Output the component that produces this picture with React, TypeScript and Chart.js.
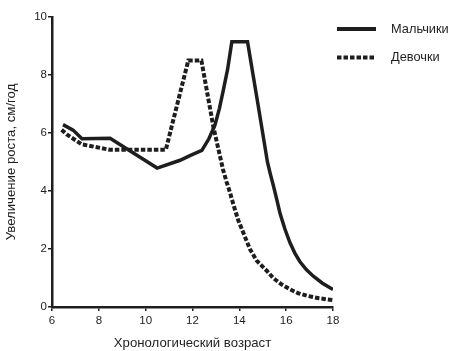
import React, { useEffect, useRef } from "react";
import { Chart, registerables } from "chart.js";

Chart.register(...registerables);

const boysAge = [6.47, 6.9, 7.28, 8.48, 10.49, 11.47, 11.89, 12.4, 12.7, 12.96, 13.15, 13.31, 13.5, 13.68, 14.35, 14.81, 15.2, 15.32, 15.45, 15.6, 15.74, 15.95, 16.16, 16.37, 16.59, 16.87, 17.16, 17.55, 18.0];
const boysGrowth = [6.29, 6.1, 5.8, 5.82, 4.79, 5.06, 5.22, 5.4, 5.8, 6.28, 6.85, 7.45, 8.2, 9.15, 9.15, 6.92, 5.0, 4.6, 4.2, 3.7, 3.22, 2.68, 2.22, 1.86, 1.56, 1.28, 1.06, 0.82, 0.6];
const girlsAge = [6.41, 6.63, 7.27, 8.48, 10.86, 11.82, 12.38, 12.89, 13.3, 13.46, 13.6, 13.74, 13.95, 14.17, 14.45, 14.74, 15.17, 15.45, 15.8, 16.16, 16.5, 16.88, 17.4, 18.0];
const girlsGrowth = [6.11, 5.95, 5.61, 5.42, 5.42, 8.5, 8.5, 6.22, 4.75, 4.3, 3.95, 3.55, 3.0, 2.56, 2.0, 1.6, 1.25, 1.0, 0.78, 0.61, 0.48, 0.39, 0.3, 0.24];
const xTicks = [6, 8, 10, 12, 14, 16, 18];
const yTicks = [0, 2, 4, 6, 8, 10];
const seriesNames = ["Мальчики", "Девочки"];
const xTitle = "Хронологический возраст";
const yTitle = "Увеличение роста, см/год";

const INK = "#1e1e1e";
const FONT = "'Liberation Sans', Arial, sans-serif";
const DOTS = [4.5, 2];

const legendPlugin = {
  id: "customLegend",
  afterDraw(chart: any) {
    const ctx = chart.ctx;
    const area = chart.chartArea;
    const x0 = area.right + 4;
    const items = [
      { name: seriesNames[0], dash: [] as number[], y: 29 },
      { name: seriesNames[1], dash: DOTS, y: 57.5 },
    ];
    ctx.save();
    items.forEach((it) => {
      ctx.beginPath();
      ctx.setLineDash(it.dash);
      ctx.lineWidth = 4;
      ctx.strokeStyle = INK;
      ctx.moveTo(x0, it.y);
      ctx.lineTo(x0 + 39, it.y);
      ctx.stroke();
      ctx.setLineDash([]);
      ctx.fillStyle = INK;
      ctx.font = `12.8px ${FONT}`;
      ctx.textBaseline = "middle";
      ctx.textAlign = "left";
      ctx.fillText(it.name, x0 + 54, it.y);
    });
    ctx.restore();
  },
};

export default function App() {
  const ref = useRef<HTMLCanvasElement>(null);
  useEffect(() => {
    if (!ref.current) return;
    const chart = new Chart(ref.current, {
      type: "line",
      data: {
        datasets: [
          {
            label: seriesNames[0],
            data: boysAge.map((x, i) => ({ x, y: boysGrowth[i] })),
            borderColor: INK,
            borderWidth: 3.5,
            pointRadius: 0,
            tension: 0,
            fill: false,
          },
          {
            label: seriesNames[1],
            data: girlsAge.map((x, i) => ({ x, y: girlsGrowth[i] })),
            borderColor: INK,
            borderWidth: 4,
            borderDash: DOTS,
            pointRadius: 0,
            tension: 0,
            fill: false,
          },
        ],
      },
      options: {
        animation: false,
        responsive: true,
        maintainAspectRatio: false,
        layout: { padding: { top: 17, right: 119, left: 0, bottom: 0 } },
        plugins: { legend: { display: false }, tooltip: { enabled: false } },
        scales: {
          x: {
            type: "linear",
            min: 6,
            max: 18,
            afterBuildTicks: (s: any) => {
              s.ticks = xTicks.map((v) => ({ value: v }));
            },
            afterFit: (s: any) => {
              s.height = 44;
            },
            grid: { display: true, drawOnChartArea: false, drawTicks: true, tickLength: 4, color: INK, lineWidth: 1.5 },
            border: { display: true, color: INK, width: 2.5 },
            ticks: { color: INK, font: { family: FONT, size: 11.5 }, padding: 3 },
            title: { display: true, text: xTitle, color: INK, font: { family: FONT, size: 13.2 }, padding: { top: 5, bottom: 0 } },
          },
          y: {
            type: "linear",
            min: 0,
            max: 10,
            afterBuildTicks: (s: any) => {
              s.ticks = yTicks.map((v) => ({ value: v }));
            },
            afterFit: (s: any) => {
              s.width = 52;
            },
            grid: { display: true, drawOnChartArea: false, drawTicks: true, tickLength: 4, color: INK, lineWidth: 1.5 },
            border: { display: true, color: INK, width: 2.5 },
            ticks: { color: INK, font: { family: FONT, size: 11.5 }, padding: 1 },
            title: { display: true, text: yTitle, color: INK, font: { family: FONT, size: 13.2 }, padding: { top: 3, bottom: 4 } },
          },
        },
      },
      plugins: [legendPlugin],
    });
    return () => chart.destroy();
  }, []);
  return (
    <div style={{ position: "fixed", left: 0, top: 0, width: 452, height: 351, background: "#fff" }}>
      <canvas ref={ref} />
    </div>
  );
}
